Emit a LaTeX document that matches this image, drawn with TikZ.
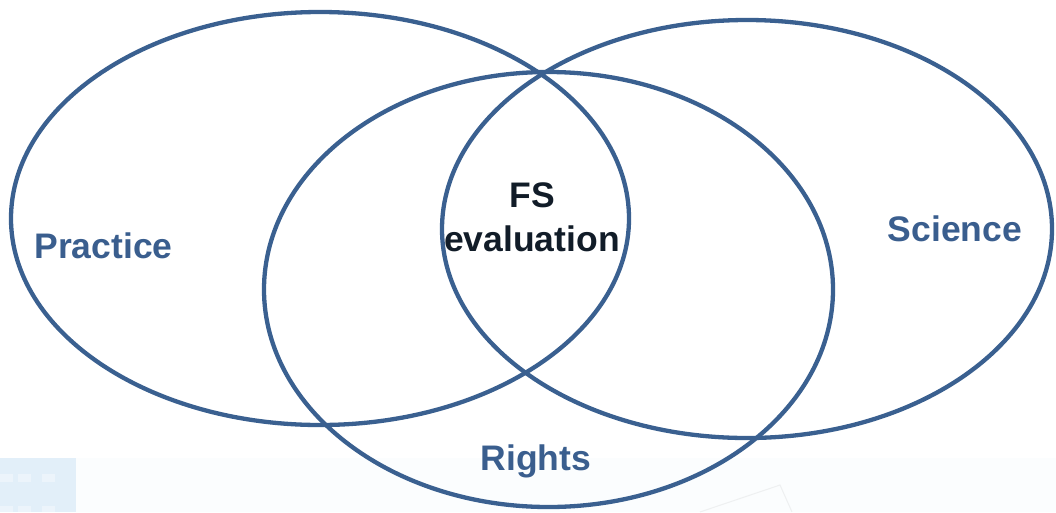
\documentclass[tikz,border=0pt]{standalone}
\usepackage{fontspec}
\setmainfont{Liberation Sans}
\definecolor{ringblue}{HTML}{3A6090}
\definecolor{labelblue}{HTML}{3A5E8E}
\definecolor{darktext}{HTML}{111C28}
\definecolor{paleband}{HTML}{FBFDFE}
\definecolor{paleblue}{HTML}{E2EFF9}
\definecolor{palesq}{HTML}{ECF4FB}
\definecolor{faintline}{HTML}{EEF0F1}
\tikzset{
  ring/.style={draw=ringblue, line width=4.3pt},
  setlabel/.style={font=\fontsize{35.5}{44}\selectfont\bfseries, text=labelblue, inner sep=0pt, anchor=base},
  corelabel/.style={font=\fontsize{35.5}{44}\selectfont\bfseries, text=darktext, inner sep=0pt, align=center}
}
\begin{document}
\begin{tikzpicture}[x=1pt,y=-1pt]
\useasboundingbox (0,0) rectangle (1056,512);
% faint background
\fill[paleband] (0,458) rectangle (1056,512);
\fill[paleblue] (0,458) rectangle (76,512);
\foreach \sx in {0,18,42} {
  \fill[palesq] (\sx,474) rectangle ++(13,8);
  \fill[palesq] (\sx,506) rectangle ++(13,6);
}
\coordinate (fa) at (780,485);
\coordinate (fb) at (700,512);
\coordinate (fc) at (792,512);
\draw[faintline, line width=1pt] (fb) -- (fa) -- (fc);
% rings
\draw[ring] (320,218.5) ellipse [x radius=309pt, y radius=206.5pt];
\draw[ring] (747,229) ellipse [x radius=305pt, y radius=209pt];
\draw[ring] (548.5,289.5) ellipse [x radius=284.5pt, y radius=217.5pt];
% labels
\node[setlabel] (practice) at (103.5,258) {Practice};
\node[setlabel] (science) at (955,241) {Science};
\node[setlabel] (rights) at (536,470) {Rights};
\node[corelabel] (core) at (532,217.5) {FS\\evaluation};
\end{tikzpicture}
\end{document}
